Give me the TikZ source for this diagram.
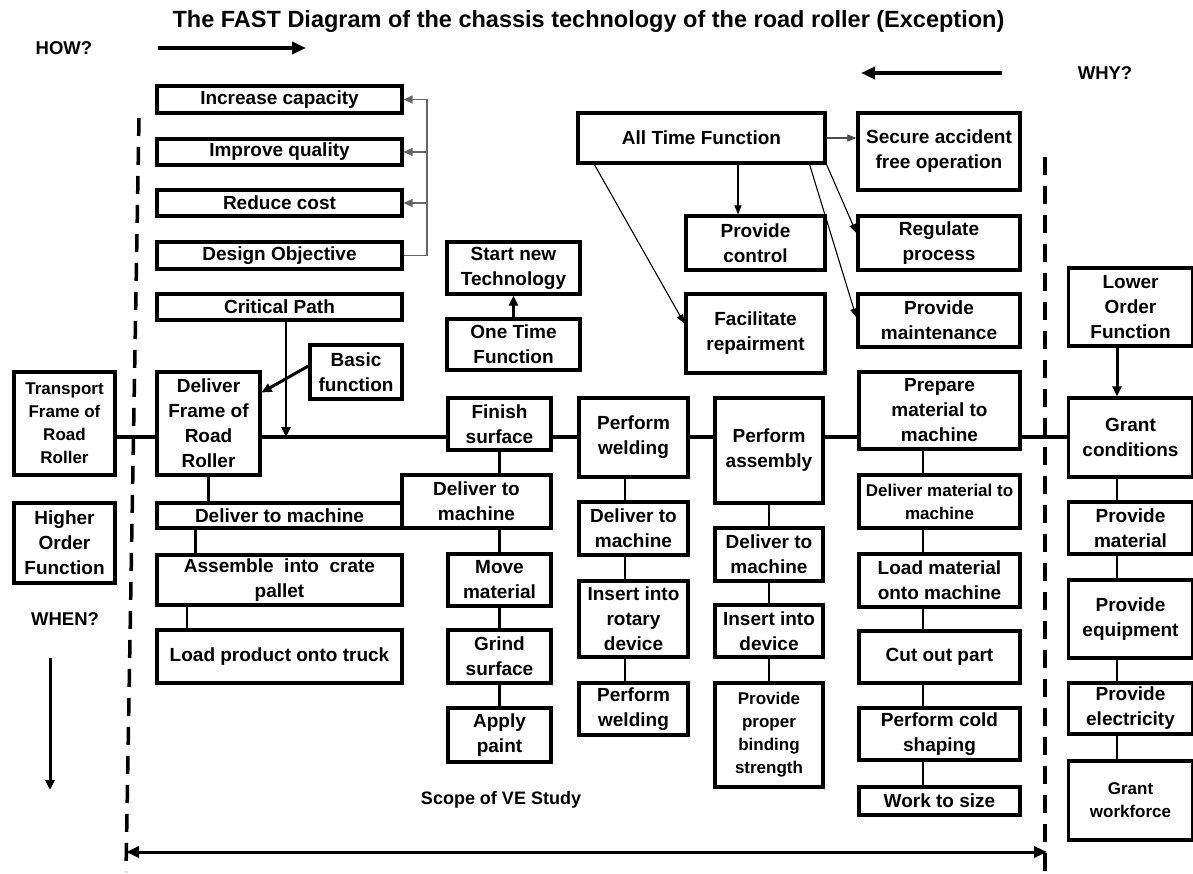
\documentclass[tikz,border=0pt]{standalone}
\usepackage{fontspec}
\setmainfont{Liberation Sans}
\usetikzlibrary{arrows.meta,positioning}

\tikzset{
    wh/.style n args={2}{minimum width=#1, minimum height=#2}
}

\begin{document}
\begin{tikzpicture}[x=1pt, y=-1pt,
    fbox/.style={draw, line width=3.2pt, align=center, inner sep=0pt, font=\bfseries\fontsize{19}{25}\selectfont},
    smallbox/.style={fbox, font=\bfseries\fontsize{17}{23}\selectfont},
    conn/.style={line width=2.5pt},
    spineline/.style={line width=3.2pt},
    arrow/.style={-{Triangle[length=10pt,width=9pt]}, line width=2.4pt},
    bigarrow/.style={-{Triangle[length=14pt,width=12pt]}, line width=3.8pt},
    thinarrow/.style={-{Triangle[length=9pt,width=7pt]}, line width=1.1pt},
    graylink/.style={line width=1.4pt, black!60},
    grayarrow/.style={graylink, -{Triangle[length=9pt,width=8pt]}},
    scopeline/.style={line width=3.5pt, dash pattern=on 18pt off 11pt},
    scopearrow/.style={{Triangle[length=13pt,width=11pt]}-{Triangle[length=13pt,width=11pt]}, line width=3pt},
    dirlabel/.style={font=\bfseries\fontsize{18.5}{22}\selectfont}
]
\path[use as bounding box, fill=white] (0,0) rectangle (1193,874);

% Title and directions
\node[font=\bfseries\fontsize{23.5}{28}\selectfont] (title) at (588.5,21) {The FAST Diagram of the chassis technology of the road roller (Exception)};
\node[dirlabel] (how) at (64,48) {HOW?};
\node[dirlabel] (why) at (1105,73) {WHY?};
\node[dirlabel] (when) at (65,619) {WHEN?};
\coordinate (howS) at (158,48);
\coordinate (howE) at (306,48);
\coordinate (whyS) at (1002,73);
\coordinate (whyE) at (861,73);
\coordinate (whenS) at (50,658);
\coordinate (whenE) at (50,790);
\draw[bigarrow] (howS) -- (howE);
\draw[bigarrow] (whyS) -- (whyE);
\draw[arrow, line width=3pt] (whenS) -- (whenE);

% Design objectives
\node[fbox, wh={245}{27}] (inc) at (279.5,99.5) {Increase capacity};
\node[fbox, wh={245}{26}] (imp) at (279.5,152) {Improve quality};
\node[fbox, wh={245}{26}] (red) at (279.5,203) {Reduce cost};
\node[fbox, wh={245}{27}] (des) at (279.5,255.5) {Design Objective};
\node[fbox, wh={245}{26}] (crit) at (279.5,307) {Critical Path};
\node[fbox, wh={92}{54}] (basic) at (356,372) {Basic\\function};

% Higher order side
\node[smallbox, wh={101}{103}] (trans) at (64.5,423.5) {Transport\\Frame of\\Road\\Roller};
\node[fbox, wh={101}{80}] (higher) at (64.5,543) {Higher\\Order\\Function};
\node[fbox, wh={103}{103}] (dfr) at (208.5,423.5) {Deliver\\Frame of\\Road\\Roller};
\node[fbox, wh={245}{25}] (dtm1) at (279.5,515.5) {Deliver to machine};
\node[fbox, wh={245}{50}] (asm) at (279.5,580) {Assemble\ \ into\ \ crate\\pallet};
\node[fbox, wh={245}{53}] (load) at (279.5,656.5) {Load product onto truck};

% One time function
\node[fbox, wh={133}{52}] (start) at (513.5,268) {Start new\\Technology};
\node[fbox, wh={133}{51}] (once) at (513.5,344.5) {One Time\\Function};

% Finish surface column
\node[fbox, wh={103}{52}] (fin) at (499.5,424) {Finish\\surface};
\node[fbox, wh={149}{53}] (dtm2) at (476.5,501.5) {Deliver to\\machine};
\node[fbox, wh={103}{52}] (move) at (499.5,580) {Move\\material};
\node[fbox, wh={103}{53}] (grind) at (499.5,656.5) {Grind\\surface};
\node[fbox, wh={103}{54}] (paint) at (499.5,735) {Apply\\paint};

% Welding column
\node[fbox, wh={109}{79}] (weld) at (633.5,437.5) {Perform\\welding};
\node[fbox, wh={109}{53}] (dtm3) at (633.5,528.5) {Deliver to\\machine};
\node[fbox, wh={109}{76}] (rot) at (633.5,619) {Insert into\\rotary\\device};
\node[fbox, wh={109}{52}] (weld2) at (633.5,709) {Perform\\welding};

% Assembly column
\node[fbox, wh={108}{105}] (assy) at (769,450.5) {Perform\\assembly};
\node[fbox, wh={108}{53}] (dtm4) at (769,554.5) {Deliver to\\machine};
\node[fbox, wh={108}{52}] (ins) at (769,631) {Insert into\\device};
\node[smallbox, wh={108}{104}] (bind) at (769,735) {Provide\\proper\\binding\\strength};

% Material column
\node[fbox, wh={161}{77}] (prep) at (939.5,410.5) {Prepare\\material to\\machine};
\node[smallbox, wh={161}{53}] (dmm) at (939.5,501.5) {Deliver material to\\machine};
\node[fbox, wh={161}{53}] (lmm) at (939.5,580.5) {Load material\\onto machine};
\node[fbox, wh={161}{52}] (cut) at (939.5,657) {Cut out part};
\node[fbox, wh={161}{52}] (cold) at (939.5,734) {Perform cold\\shaping};
\node[fbox, wh={161}{28}] (size) at (939.5,801) {Work to size};

% All time functions
\node[fbox, wh={247}{50}] (all) at (701.5,138) {All Time Function};
\node[fbox, wh={162}{77}] (secure) at (939,151.5) {Secure accident\\free operation};
\node[fbox, wh={139}{54}] (ctrl) at (755.5,243) {Provide\\control};
\node[fbox, wh={162}{54}] (reg) at (939,243) {Regulate\\process};
\node[fbox, wh={139}{79}] (fac) at (755.5,333.5) {Facilitate\\repairment};
\node[fbox, wh={162}{53}] (maint) at (939,320.5) {Provide\\maintenance};

% Lower order side
\node[fbox, wh={124}{78}] (lower) at (1130.5,307) {Lower\\Order\\Function};
\node[fbox, wh={124}{79}] (grant) at (1130.5,437.5) {Grant\\conditions};
\node[fbox, wh={124}{52}] (pmat) at (1130.5,528) {Provide\\material};
\node[fbox, wh={124}{78}] (peq) at (1130.5,619) {Provide\\equipment};
\node[fbox, wh={124}{51}] (pel) at (1130.5,708.5) {Provide\\electricity};
\node[smallbox, wh={124}{79}] (work) at (1130.5,800.5) {Grant\\workforce};

% Critical path line
\coordinate (spine) at (0,437);
\coordinate (cp) at (286,437);
\draw[spineline] (trans.east |- spine) -- (dfr.west |- spine);
\draw[spineline] (dfr.east |- spine) -- (fin.west |- spine);
\draw[spineline] (fin.east |- spine) -- (weld.west |- spine);
\draw[spineline] (weld.east |- spine) -- (assy.west |- spine);
\draw[spineline] (assy.east |- spine) -- (prep.west |- spine);
\draw[spineline] (prep.east |- spine) -- (grant.west |- spine);
\draw[arrow] (crit.south -| cp) -- (cp);
\draw[arrow, line width=3pt] ([yshift=6pt]basic.west) -- ([yshift=31pt]dfr.east);

% Objective bracket
\coordinate (brk) at (427,0);
\draw[graylink] (des.east) -| (brk |- inc.east);
\foreach \n in {inc,imp,red}
    \draw[grayarrow] (brk |- \n.east) -- (\n.east);

% Arrows of the all time function
\draw[thinarrow, black!70] (all.east) -- (secure.west |- all.east);
\draw[thinarrow] ([xshift=36.5pt]all.south) -- ([xshift=-17.5pt]ctrl.north);
\draw[thinarrow] ([xshift=18pt]all.south west) -- ([yshift=10pt]fac.west);
\draw[thinarrow] ([xshift=-17pt]all.south east) -- ([yshift=3pt]maint.west);
\draw[thinarrow] (all.south east) -- ([yshift=10pt]reg.west);
\draw[arrow, line width=3pt] (once) -- (start);
\draw[arrow, line width=3pt] ([xshift=-13.5pt]lower.south) -- ([xshift=-13.5pt]grant.north);

% Vertical links
\draw[conn] (dfr.south) -- (dtm1.north -| dfr.south);
\draw[conn] ([xshift=-84pt]dtm1.south) -- ([xshift=-84pt]asm.north);
\draw[conn] ([xshift=-92.5pt]asm.south) -- ([xshift=-92.5pt]load.north);
\draw[conn] (fin.south) -- (dtm2.north -| fin.south);
\draw[conn] (dtm2.south -| move.north) -- (move.north);
\draw[conn] (move) -- (grind);
\draw[conn] (grind) -- (paint);
\foreach \a/\b in {weld/dtm3, dtm3/rot, rot/weld2}
    \draw[conn] ([xshift=-8.5pt]\a.south) -- ([xshift=-8.5pt]\b.north);
\foreach \a/\b in {assy/dtm4, dtm4/ins, ins/bind}
    \draw[conn] (\a) -- (\b);
\foreach \a/\b in {prep/dmm, dmm/lmm, lmm/cut, cut/cold, cold/size}
    \draw[conn] ([xshift=-16.5pt]\a.south) -- ([xshift=-16.5pt]\b.north);
\foreach \a/\b in {grant/pmat, pmat/peq, peq/pel, pel/work}
    \draw[conn] ([xshift=-13.5pt]\a.south) -- ([xshift=-13.5pt]\b.north);

% Scope of the study
\coordinate (scopeTL) at (139,118);
\coordinate (scopeBL) at (126,872);
\coordinate (scopeTR) at (1045,157);
\coordinate (scopeBR) at (1045,874);
\coordinate (spanL) at (126,852);
\coordinate (spanR) at (1047,852);
\draw[scopeline] (scopeTL) -- (scopeBL);
\draw[scopeline] (scopeTR) -- (scopeBR);
\draw[scopearrow] (spanL) -- (spanR);
\node[font=\bfseries\fontsize{18}{22}\selectfont] (scope) at (501,800) {Scope of VE Study};

\end{tikzpicture}
\end{document}
